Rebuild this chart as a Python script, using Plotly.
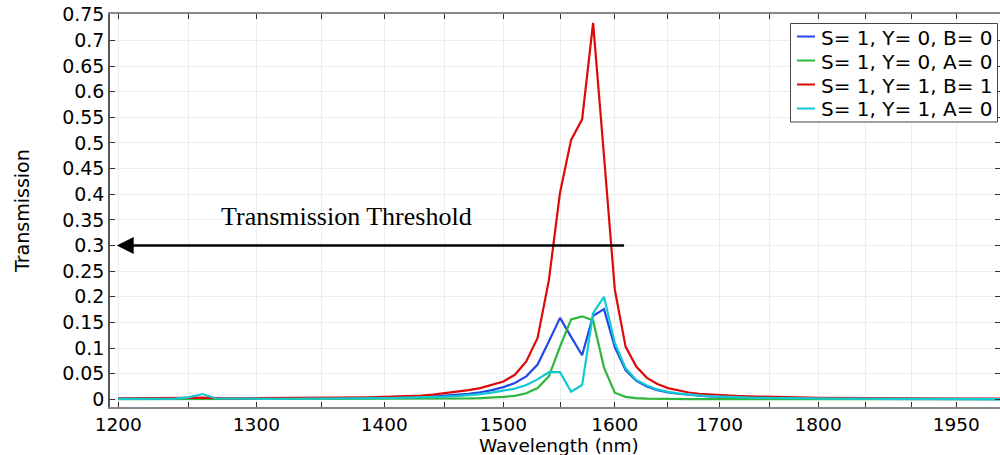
import plotly.graph_objects as go
import math

# ---------------- data ----------------
wavelength_nm = list(range(1200, 2001, 10))

s1_y0_b0 = [
    0.001, 0.001, 0.001, 0.001, 0.001, 0.0015, 0.002, 0.0012, 0.001, 0.001,
    0.001, 0.0012, 0.0013, 0.0014, 0.0015, 0.0017, 0.0019, 0.0021, 0.0024, 0.0028,
    0.0032, 0.0037, 0.0043, 0.005, 0.006, 0.0075, 0.009, 0.011, 0.014, 0.018,
    0.024, 0.032, 0.045, 0.068, 0.113, 0.159, 0.122, 0.086, 0.163, 0.176,
    0.102, 0.057, 0.036, 0.025, 0.018, 0.0135, 0.011, 0.0088, 0.0072, 0.006,
    0.005, 0.0043, 0.0037, 0.0032, 0.0028, 0.0025, 0.0022, 0.002, 0.0018, 0.0016,
    0.0015, 0.0014, 0.0013, 0.0012, 0.0011, 0.001, 0.001, 0.0009, 0.0009, 0.0008,
    0.0008, 0.0007, 0.0007, 0.0007, 0.0006, 0.0006, 0.0006, 0.0005, 0.0005, 0.0005,
    0.0005,
]

s1_y0_a0 = [
    0.0005, 0.0005, 0.0005, 0.0005, 0.0005, 0.0005, 0.0005, 0.0005, 0.0005, 0.0005,
    0.0005, 0.0005, 0.0005, 0.0005, 0.0005, 0.0005, 0.0005, 0.0005, 0.0005, 0.0005,
    0.0006, 0.0007, 0.0008, 0.0009, 0.001, 0.0012, 0.0015, 0.0019, 0.0025, 0.0034,
    0.0048, 0.007, 0.012, 0.022, 0.045, 0.103, 0.156, 0.162, 0.154, 0.062,
    0.013, 0.005, 0.0025, 0.0015, 0.001, 0.0008, 0.0007, 0.0006, 0.0006, 0.0005,
    0.0005, 0.0005, 0.0005, 0.0004, 0.0004, 0.0004, 0.0004, 0.0004, 0.0004, 0.0004,
    0.0004, 0.0004, 0.0004, 0.0003, 0.0003, 0.0003, 0.0003, 0.0003, 0.0003, 0.0003,
    0.0003, 0.0003, 0.0003, 0.0003, 0.0003, 0.0003, 0.0003, 0.0003, 0.0003, 0.0003,
    0.0003,
]

s1_y1_b1 = [
    0.002, 0.002, 0.002, 0.002, 0.0022, 0.0028, 0.0035, 0.0025, 0.0022, 0.0022,
    0.0023, 0.0024, 0.0025, 0.0026, 0.0028, 0.003, 0.0032, 0.0035, 0.0038, 0.0042,
    0.0048, 0.0055, 0.0063, 0.0073, 0.0095, 0.012, 0.0145, 0.018, 0.022, 0.028,
    0.035, 0.048, 0.074, 0.12, 0.232, 0.403, 0.506, 0.546, 0.734, 0.475,
    0.214, 0.103, 0.064, 0.042, 0.030, 0.022, 0.017, 0.0135, 0.011, 0.0095,
    0.0083, 0.0073, 0.0065, 0.0058, 0.0052, 0.0047, 0.0043, 0.004, 0.0037, 0.0034,
    0.0032, 0.003, 0.0028, 0.0027, 0.0026, 0.0025, 0.0024, 0.0023, 0.0022, 0.0021,
    0.002, 0.002, 0.0019, 0.0019, 0.0018, 0.0018, 0.0017, 0.0017, 0.0016, 0.0016,
    0.0016,
]

s1_y1_a0 = [
    0.001, 0.001, 0.001, 0.0012, 0.0015, 0.004, 0.0105, 0.0018, 0.0013, 0.0012,
    0.0012, 0.0012, 0.0013, 0.0013, 0.0014, 0.0015, 0.0016, 0.0018, 0.002, 0.0022,
    0.0025, 0.0028, 0.0032, 0.0037, 0.0044, 0.0053, 0.0065, 0.008, 0.0102, 0.0132,
    0.0165, 0.021, 0.028, 0.039, 0.053, 0.053, 0.015, 0.028, 0.168, 0.2,
    0.11, 0.061, 0.038, 0.027, 0.0195, 0.0148, 0.0117, 0.0094, 0.0077, 0.0064,
    0.0054, 0.0046, 0.004, 0.0035, 0.0031, 0.0027, 0.0024, 0.0022, 0.002, 0.0018,
    0.0017, 0.0016, 0.0015, 0.0014, 0.0013, 0.0012, 0.0012, 0.0011, 0.0011, 0.001,
    0.001, 0.0009, 0.0009, 0.0009, 0.0008, 0.0008, 0.0008, 0.0008, 0.0007, 0.0007,
    0.0007,
]

series_names = ["S= 1, Y= 0, B= 0", "S= 1, Y= 0, A= 0", "S= 1, Y= 1, B= 1", "S= 1, Y= 1, A= 0"]
series_colors = ["#2448e6", "#2db83d", "#dd0a0a", "#12c9d2"]

x_tick_vals = list(range(1200, 1951, 50))
x_tick_labels = ["1200", "", "1300", "", "1400", "", "1500", "", "1600", "", "1700", "", "1800", "", "", "1950"]
y_tick_vals = [0, 0.05, 0.1, 0.15, 0.2, 0.25, 0.3, 0.35, 0.4, 0.45, 0.5, 0.55, 0.6, 0.65, 0.7, 0.75]
y_tick_labels = ["0", "0.05", "0.1", "0.15", "0.2", "0.25", "0.3", "0.35", "0.4", "0.45",
                 "0.5", "0.55", "0.6", "0.65", "0.7", "0.75"]

x_range_nm = [1194.3, 2000]
y_range = [-0.0148, 0.7514]

threshold_level = 0.3
arrow_start_nm = 1610
arrow_end_nm = 1199
threshold_label = "Transmission Threshold"
threshold_label_nm = 1370
threshold_label_level = 0.356

x_title = "Wavelength (nm)"
y_title = "Transmission"

# ---------------- layout geometry (pixels) ----------------
W, H = 1000, 455
ML, MR, MT, MB = 110, 0, 14, 48
PW, PH = W - ML - MR, H - MT - MB


def px(xp):
    return (xp - ML) / PW


def py(yp):
    return (H - MB - yp) / PH


font_main = "DejaVu Sans"

# ---------------- figure ----------------
fig = go.Figure()
all_series = [s1_y0_b0, s1_y0_a0, s1_y1_b1, s1_y1_a0]
for name, color, vals in zip(series_names, series_colors, all_series):
    fig.add_trace(go.Scatter(x=wavelength_nm, y=vals, mode="lines", name=name,
                             line=dict(color=color, width=2.2), showlegend=False))

# threshold arrow + label
fig.add_annotation(
    x=math.log10(arrow_end_nm), y=threshold_level,
    ax=math.log10(arrow_start_nm), ay=threshold_level,
    xref="x", yref="y", axref="x", ayref="y",
    showarrow=True, arrowhead=2, arrowsize=1.3, arrowwidth=2.6, arrowcolor="black",
    text="",
)
fig.add_annotation(
    x=math.log10(threshold_label_nm), y=threshold_label_level, xref="x", yref="y",
    text=threshold_label, showarrow=False,
    font=dict(family="Liberation Serif", size=26, color="black"),
)

# axis titles
fig.add_annotation(x=px(559), y=py(445), xref="paper", yref="paper",
                   text=x_title, showarrow=False, xanchor="center", yanchor="middle",
                   borderpad=0,
                   font=dict(family=font_main, size=18.5, color="black"))
fig.add_annotation(x=px(22), y=py(211), xref="paper", yref="paper",
                   text=y_title, showarrow=False, textangle=-90,
                   xanchor="center", yanchor="middle",
                   font=dict(family=font_main, size=19, color="black"))

# manual legend box
shapes = [dict(type="rect", xref="paper", yref="paper",
               x0=px(790.5), x1=px(997.5), y0=py(122), y1=py(23.5),
               line=dict(color="#444", width=1), fillcolor="white", layer="above")]
row_y = [36.5, 60.5, 84.5, 108.5]
for name, color, ry in zip(series_names, series_colors, row_y):
    shapes.append(dict(type="line", xref="paper", yref="paper",
                       x0=px(797), x1=px(815), y0=py(ry), y1=py(ry),
                       line=dict(color=color, width=2), layer="above"))
    fig.add_annotation(x=px(819), y=py(ry + 1), xref="paper", yref="paper",
                       text=name, showarrow=False, xanchor="left", yanchor="middle",
                       font=dict(family=font_main, size=20, color="black"))

fig.update_layout(
    width=W, height=H,
    margin=dict(l=ML, r=MR, t=MT, b=MB),
    paper_bgcolor="white", plot_bgcolor="white",
    font=dict(family=font_main, size=19, color="black"),
    showlegend=False,
    shapes=shapes,
)

fig.update_xaxes(
    type="log",
    range=[math.log10(x_range_nm[0]), math.log10(x_range_nm[1])],
    tickmode="array", tickvals=x_tick_vals, ticktext=x_tick_labels,
    ticks="inside", ticklen=5, tickcolor="#333", mirror="allticks",
    showline=True, linecolor="#888", linewidth=1.5,
    showgrid=True, gridcolor="#ececec", gridwidth=1,
    zeroline=False, automargin=False,
    tickfont=dict(size=18.5),
)
fig.update_yaxes(
    range=y_range,
    tickmode="array", tickvals=y_tick_vals, ticktext=y_tick_labels,
    ticks="inside", ticklen=5, tickcolor="#333", mirror="allticks",
    showline=True, linecolor="#555", linewidth=1.5,
    showgrid=True, gridcolor="#ececec", gridwidth=1,
    zeroline=False, automargin=False,
    tickfont=dict(size=19),
)

fig.write_html(
    "out.html",
    config=dict(displayModeBar=False),
    post_script="document.body.style.margin='0';document.body.style.overflow='hidden';",
)
